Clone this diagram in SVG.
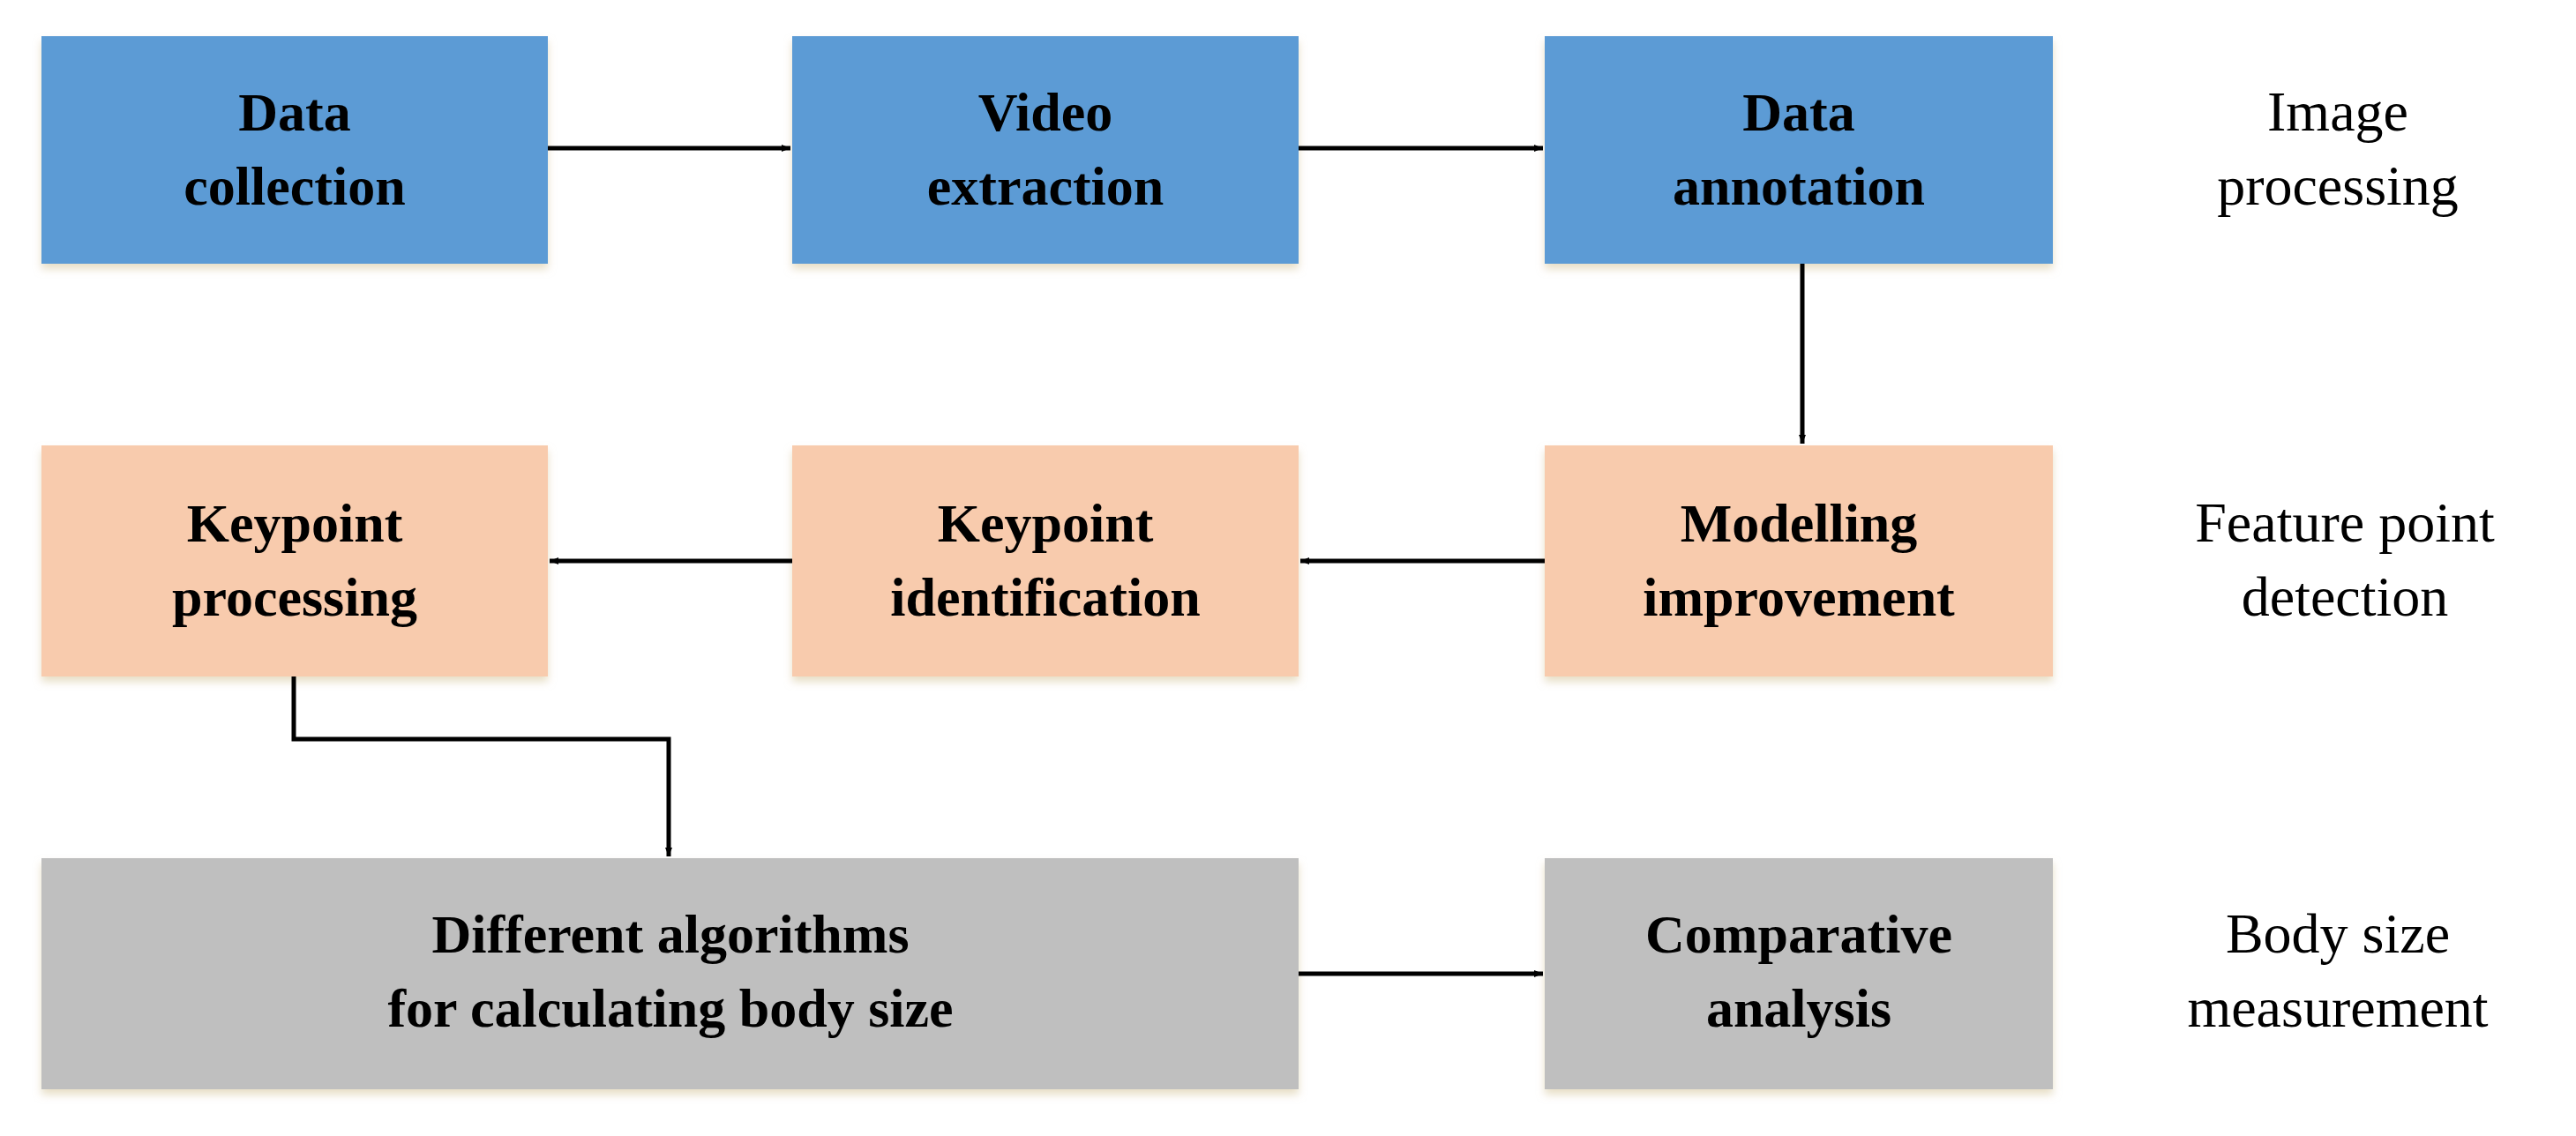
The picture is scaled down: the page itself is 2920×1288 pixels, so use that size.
<svg xmlns="http://www.w3.org/2000/svg" width="2920" height="1288" viewBox="0 0 2920 1288">
<defs>
<marker id="ah" markerWidth="10" markerHeight="8" refX="10" refY="4" orient="auto" markerUnits="userSpaceOnUse" viewBox="0 0 10 8"><path d="M0,0 L10,4 L0,8 Z" fill="#000"/></marker>
<filter id="sh" x="-5%" y="-5%" width="110%" height="115%"><feDropShadow dx="0" dy="6" stdDeviation="5" flood-color="#d8c9a0" flood-opacity="0.6"/></filter>
</defs>
<style>
.b{fill:#5B9BD5;filter:url(#sh)}
.p{fill:#F8CBAD;filter:url(#sh)}
.g{fill:#BFBFBF;filter:url(#sh)}
.t{font-family:"Liberation Serif",serif;font-weight:bold;font-size:62px;text-anchor:middle;fill:#000}
.r{font-family:"Liberation Serif",serif;font-size:64px;text-anchor:middle;fill:#000}
.c{stroke:#000;stroke-width:5;fill:none}
</style>
<rect width="2920" height="1288" fill="#fff"/>
<g id="n1"><rect class="b" x="47" y="41" width="574" height="258"/><text class="t" x="334" y="148">Data</text><text class="t" x="334" y="232">collection</text></g>
<g id="n2"><rect class="b" x="898" y="41" width="574" height="258"/><text class="t" x="1185" y="148">Video</text><text class="t" x="1185" y="232">extraction</text></g>
<g id="n3"><rect class="b" x="1751" y="41" width="576" height="258"/><text class="t" x="2039" y="148">Data</text><text class="t" x="2039" y="232">annotation</text></g>
<g id="n4"><rect class="p" x="1751" y="505" width="576" height="262"/><text class="t" x="2039" y="614">Modelling</text><text class="t" x="2039" y="698">improvement</text></g>
<g id="n5"><rect class="p" x="898" y="505" width="574" height="262"/><text class="t" x="1185" y="614">Keypoint</text><text class="t" x="1185" y="698">identification</text></g>
<g id="n6"><rect class="p" x="47" y="505" width="574" height="262"/><text class="t" x="334" y="614">Keypoint</text><text class="t" x="334" y="698">processing</text></g>
<g id="n7"><rect class="g" x="47" y="973" width="1425" height="262"/><text class="t" x="760" y="1080">Different algorithms</text><text class="t" x="760" y="1164">for calculating body size</text></g>
<g id="n8"><rect class="g" x="1751" y="973" width="576" height="262"/><text class="t" x="2039" y="1080">Comparative</text><text class="t" x="2039" y="1164">analysis</text></g>
<g id="labels">
<text class="r" x="2650" y="148">Image</text><text class="r" x="2650" y="232">processing</text>
<text class="r" x="2658" y="614">Feature point</text><text class="r" x="2658" y="698">detection</text>
<text class="r" x="2650" y="1080">Body size</text><text class="r" x="2650" y="1164">measurement</text>
</g>
<g id="connectors" marker-end="url(#ah)">
<line class="c" x1="621" y1="168" x2="896" y2="168" marker-end="url(#ah)"/>
<line class="c" x1="1472" y1="168" x2="1749" y2="168" marker-end="url(#ah)"/>
<line class="c" x1="2043" y1="299" x2="2043" y2="503" marker-end="url(#ah)"/>
<line class="c" x1="1751" y1="636" x2="1474" y2="636" marker-end="url(#ah)"/>
<line class="c" x1="898" y1="636" x2="623" y2="636" marker-end="url(#ah)"/>
<polyline class="c" points="333,767 333,838 758,838 758,971" marker-end="url(#ah)"/>
<line class="c" x1="1472" y1="1104" x2="1749" y2="1104" marker-end="url(#ah)"/>
</g>
</svg>
